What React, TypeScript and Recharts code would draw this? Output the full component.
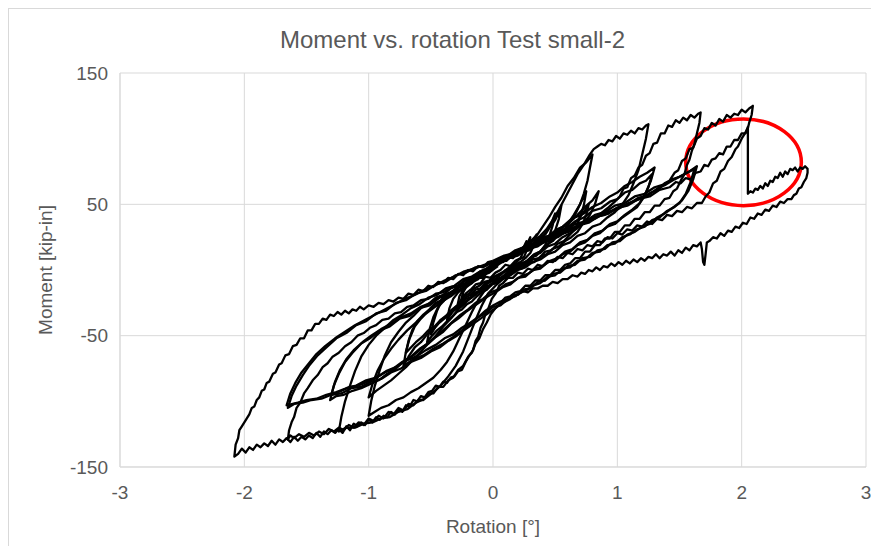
import React from "react";
import {
  LineChart,
  Line,
  XAxis,
  YAxis,
  CartesianGrid,
  ReferenceArea,
  Label,
} from "recharts";

// rotation [deg], moment [kip-in] pairs, one array per cycle
const loopA1 = [0,4, 0.04,7, 0.08,6, 0.12,10, 0.16,9, 0.2,13, 0.24,16, 0.27,22, 0.25,15, 0.22,9, 0.18,7, 0.14,3, 0.1,4, 0.06,0, 0.02,-2, -0.02,-6, -0.06,-5, -0.1,-10, -0.14,-11, -0.18,-15, -0.22,-18, -0.26,-24, -0.24,-17, -0.21,-12, -0.17,-10, -0.13,-6, -0.09,-6, -0.05,-2, -0.01,1, 0.03,3];
const loopA2 = [0.03,3, 0.07,8, 0.11,7, 0.15,11, 0.19,12, 0.23,15, 0.27,19, 0.3,25, 0.28,17, 0.25,10, 0.21,8, 0.17,4, 0.13,2, 0.09,-1, 0.05,-3, 0.01,-5, -0.03,-8, -0.07,-9, -0.11,-12, -0.15,-14, -0.19,-18, -0.23,-20, -0.27,-25, -0.29,-29, -0.27,-20, -0.24,-15, -0.2,-12, -0.16,-9, -0.12,-7, -0.08,-3, -0.04,-2, 0,2];
const loopA3 = [0,3, 0.05,6, 0.1,8, 0.15,10, 0.2,13, 0.25,15, 0.3,20, 0.35,27, 0.33,19, 0.3,13, 0.26,9, 0.22,6, 0.18,4, 0.14,1, 0.1,0, 0.06,-4, 0.02,-5, -0.02,-9, -0.06,-10, -0.1,-14, -0.14,-15, -0.18,-19, -0.22,-21, -0.26,-25, -0.3,-28, -0.34,-34, -0.37,-38, -0.35,-29, -0.32,-22, -0.28,-17, -0.24,-14, -0.2,-10, -0.16,-9, -0.12,-5, -0.08,-4, -0.04,0, 0,3];
const loopB1 = [0,2, 0.05,6, 0.1,7, 0.15,11, 0.2,12, 0.25,16, 0.3,17, 0.35,22, 0.4,25, 0.44,31, 0.47,36, 0.5,43, 0.48,34, 0.45,25, 0.42,19, 0.38,14, 0.34,12, 0.3,7, 0.26,6, 0.22,2, 0.18,1, 0.14,-3, 0.1,-3, 0.06,-7, 0.02,-8, -0.02,-12, -0.06,-12, -0.1,-16, -0.14,-17, -0.18,-21, -0.22,-22, -0.26,-26, -0.3,-28, -0.34,-31, -0.38,-35, -0.42,-38, -0.46,-43, -0.5,-49, -0.48,-40, -0.45,-31, -0.42,-25, -0.38,-22, -0.34,-17, -0.3,-16, -0.26,-12, -0.22,-11, -0.18,-7, -0.14,-6, -0.1,-2, -0.06,-1, -0.02,3, 0.02,4];
const loopB2 = [0.02,4, 0.07,8, 0.12,9, 0.17,13, 0.22,14, 0.27,18, 0.32,20, 0.37,24, 0.42,27, 0.46,33, 0.5,38, 0.53,44, 0.55,49, 0.53,39, 0.5,30, 0.47,23, 0.43,18, 0.39,15, 0.35,11, 0.31,10, 0.27,5, 0.23,4, 0.19,0, 0.15,-1, 0.11,-5, 0.07,-6, 0.03,-10, -0.01,-11, -0.05,-15, -0.09,-17, -0.13,-20, -0.17,-24, -0.21,-26, -0.25,-30, -0.29,-32, -0.33,-36, -0.37,-39, -0.41,-43, -0.45,-46, -0.49,-50, -0.53,-55, -0.51,-45, -0.48,-36, -0.44,-28, -0.4,-24, -0.36,-19, -0.32,-17, -0.28,-13, -0.24,-12, -0.2,-8, -0.16,-7, -0.12,-3, -0.08,-2, -0.04,2, 0,5];
const loopC1 = [0,5, 0.06,8, 0.12,10, 0.18,13, 0.24,15, 0.3,19, 0.36,21, 0.42,25, 0.48,27, 0.54,31, 0.6,35, 0.65,42, 0.7,50, 0.75,60, 0.73,49, 0.7,40, 0.66,31, 0.62,27, 0.57,22, 0.52,20, 0.47,15, 0.42,14, 0.37,9, 0.32,8, 0.27,4, 0.22,3, 0.17,-1, 0.12,-2, 0.07,-6, 0.02,-8, -0.03,-12, -0.08,-14, -0.13,-18, -0.18,-21, -0.23,-25, -0.28,-28, -0.33,-32, -0.38,-36, -0.43,-40, -0.48,-45, -0.53,-49, -0.58,-55, -0.63,-59, -0.68,-66, -0.72,-73, -0.7,-62, -0.67,-52, -0.63,-43, -0.58,-37, -0.53,-32, -0.48,-27, -0.43,-24, -0.38,-19, -0.33,-17, -0.28,-12, -0.23,-11, -0.18,-6, -0.13,-5, -0.08,-1, -0.03,1, 0.02,5];
const loopC2 = [0.02,5, 0.08,9, 0.14,10, 0.2,14, 0.26,15, 0.32,19, 0.38,20, 0.44,24, 0.5,26, 0.56,30, 0.62,33, 0.68,38, 0.73,44, 0.77,50, 0.75,42, 0.72,35, 0.68,29, 0.63,25, 0.58,22, 0.53,18, 0.48,16, 0.43,12, 0.38,10, 0.33,6, 0.28,5, 0.23,1, 0.18,0, 0.13,-4, 0.08,-5, 0.03,-9, -0.02,-11, -0.07,-15, -0.12,-17, -0.17,-21, -0.22,-24, -0.27,-28, -0.32,-31, -0.37,-35, -0.42,-38, -0.47,-43, -0.52,-46, -0.57,-51, -0.62,-55, -0.67,-60, -0.7,-63, -0.68,-54, -0.65,-46, -0.61,-39, -0.56,-34, -0.51,-30, -0.46,-25, -0.41,-23, -0.36,-18, -0.31,-16, -0.26,-11, -0.21,-10, -0.16,-5, -0.11,-4, -0.06,0, 0,3];
const loopD1 = [0,6, 0.06,9, 0.12,11, 0.18,15, 0.24,17, 0.3,22, 0.35,26, 0.4,33, 0.45,40, 0.5,48, 0.55,55, 0.6,64, 0.65,70, 0.7,78, 0.75,82, 0.8,88, 0.78,78, 0.76,68, 0.73,58, 0.7,50, 0.66,42, 0.62,37, 0.58,31, 0.53,27, 0.48,22, 0.43,19, 0.38,14, 0.33,12, 0.28,7, 0.23,5, 0.18,1, 0.13,-1, 0.08,-5, 0.03,-7, -0.02,-12, -0.07,-16, -0.12,-23, -0.17,-32, -0.22,-42, -0.27,-52, -0.32,-62, -0.37,-70, -0.42,-76, -0.48,-82, -0.54,-86, -0.6,-90, -0.66,-93, -0.72,-97, -0.78,-99, -0.84,-103, -0.9,-105, -0.95,-108, -1.0,-111, -0.98,-100, -0.95,-88, -0.91,-76, -0.87,-65, -0.82,-55, -0.76,-47, -0.7,-40, -0.64,-35, -0.58,-29, -0.52,-26, -0.46,-21, -0.4,-19, -0.34,-14, -0.28,-12, -0.22,-7, -0.16,-5, -0.1,-1, -0.04,1, 0.02,5];
const loopD2 = [0.02,5, 0.08,8, 0.14,11, 0.2,13, 0.26,17, 0.32,19, 0.38,23, 0.44,25, 0.5,30, 0.56,33, 0.62,38, 0.68,42, 0.74,48, 0.8,53, 0.85,60, 0.82,50, 0.78,42, 0.73,36, 0.68,32, 0.62,28, 0.56,25, 0.5,20, 0.44,18, 0.38,13, 0.32,11, 0.26,6, 0.2,4, 0.14,0, 0.08,-2, 0.02,-7, -0.04,-10, -0.1,-15, -0.16,-19, -0.22,-25, -0.28,-30, -0.34,-37, -0.4,-43, -0.46,-50, -0.52,-56, -0.58,-62, -0.64,-68, -0.7,-74, -0.76,-79, -0.82,-84, -0.88,-88, -0.94,-92, -1.0,-97, -0.97,-87, -0.93,-77, -0.88,-68, -0.82,-60, -0.76,-53, -0.69,-46, -0.62,-40, -0.55,-34, -0.48,-29, -0.41,-24, -0.34,-20, -0.27,-15, -0.2,-11, -0.13,-6, -0.06,-3, 0.01,2];
const loopE1 = [0.02,5, 0.08,9, 0.14,11, 0.2,15, 0.26,18, 0.32,22, 0.38,26, 0.43,31, 0.48,38, 0.53,46, 0.58,55, 0.63,64, 0.68,73, 0.73,80, 0.78,88, 0.81,92, 0.84,94, 0.87,96, 0.9,95, 0.93,99, 0.96,98, 0.99,102, 1.02,100, 1.05,104, 1.08,103, 1.11,106, 1.14,104, 1.17,108, 1.2,107, 1.23,110, 1.25,111, 1.23,100, 1.2,88, 1.17,76, 1.13,66, 1.09,57, 1.04,50, 0.98,44, 0.92,40, 0.86,35, 0.8,33, 0.74,28, 0.68,26, 0.62,21, 0.56,19, 0.5,14, 0.44,12, 0.38,8, 0.32,6, 0.26,2, 0.2,0, 0.14,-4, 0.08,-7, 0.02,-12, -0.04,-18, -0.09,-27, -0.14,-38, -0.19,-50, -0.24,-62, -0.3,-73, -0.36,-81, -0.42,-88, -0.48,-93, -0.55,-98, -0.62,-101, -0.69,-106, -0.76,-108, -0.83,-112, -0.9,-113, -0.97,-116, -1.04,-117, -1.11,-120, -1.18,-120, -1.24,-123, -1.22,-112, -1.19,-100, -1.15,-88, -1.11,-77, -1.06,-66, -1.0,-57, -0.94,-50, -0.87,-44, -0.8,-38, -0.73,-34, -0.66,-29, -0.59,-26, -0.52,-21, -0.45,-19, -0.38,-14, -0.31,-12, -0.24,-7, -0.17,-5, -0.1,-1, -0.03,2, 0.03,6];
const loopE2 = [0.03,6, 0.1,10, 0.17,12, 0.24,17, 0.31,19, 0.38,24, 0.45,26, 0.52,31, 0.59,34, 0.66,40, 0.73,43, 0.8,48, 0.87,51, 0.94,56, 1.0,59, 1.06,64, 1.12,67, 1.18,71, 1.24,74, 1.3,78, 1.27,68, 1.23,59, 1.18,51, 1.12,46, 1.06,42, 1.0,37, 0.94,35, 0.88,30, 0.82,28, 0.76,23, 0.7,21, 0.64,16, 0.58,14, 0.52,9, 0.46,7, 0.4,3, 0.34,1, 0.28,-3, 0.22,-5, 0.16,-9, 0.1,-11, 0.04,-15, -0.02,-17, -0.08,-22, -0.14,-25, -0.2,-30, -0.26,-34, -0.32,-39, -0.38,-44, -0.44,-49, -0.5,-54, -0.57,-59, -0.64,-65, -0.71,-69, -0.78,-75, -0.85,-79, -0.92,-84, -0.99,-87, -1.06,-90, -1.13,-92, -1.2,-95, -1.26,-96, -1.31,-99, -1.28,-88, -1.24,-79, -1.19,-70, -1.13,-63, -1.06,-56, -0.99,-52, -0.91,-46, -0.83,-43, -0.75,-37, -0.67,-35, -0.59,-29, -0.51,-27, -0.43,-21, -0.35,-19, -0.27,-13, -0.19,-11, -0.11,-5, -0.03,-2, 0.04,4];
const loopE3 = [0.03,4, 0.1,8, 0.17,11, 0.24,15, 0.31,18, 0.38,22, 0.45,25, 0.52,29, 0.59,32, 0.66,37, 0.73,40, 0.8,45, 0.87,47, 0.94,52, 1.0,54, 1.06,59, 1.12,61, 1.18,66, 1.23,68, 1.28,73, 1.25,63, 1.21,55, 1.16,48, 1.1,44, 1.04,40, 0.98,35, 0.92,33, 0.86,28, 0.8,26, 0.74,21, 0.68,19, 0.62,14, 0.56,12, 0.5,7, 0.44,6, 0.38,1, 0.32,0, 0.26,-5, 0.2,-6, 0.14,-11, 0.08,-13, 0.02,-17, -0.04,-20, -0.1,-24, -0.16,-28, -0.22,-32, -0.28,-37, -0.34,-41, -0.4,-47, -0.46,-51, -0.52,-56, -0.59,-60, -0.66,-66, -0.73,-70, -0.8,-75, -0.87,-78, -0.94,-82, -1.01,-85, -1.08,-88, -1.15,-89, -1.22,-92, -1.3,-95, -1.27,-85, -1.23,-76, -1.18,-68, -1.12,-61, -1.05,-55, -0.98,-50, -0.9,-45, -0.82,-41, -0.74,-36, -0.66,-33, -0.58,-28, -0.5,-25, -0.42,-20, -0.34,-17, -0.26,-12, -0.18,-9, -0.1,-4, -0.02,-1, 0.04,3];
const loopF1 = [0.04,4, 0.12,9, 0.2,11, 0.28,16, 0.36,18, 0.44,23, 0.52,25, 0.6,30, 0.68,33, 0.76,38, 0.84,41, 0.92,47, 0.98,52, 1.02,56, 1.05,62, 1.08,63, 1.11,70, 1.14,72, 1.17,78, 1.2,80, 1.23,87, 1.26,89, 1.29,96, 1.32,97, 1.35,104, 1.38,104, 1.41,110, 1.44,109, 1.47,114, 1.5,112, 1.53,116, 1.56,114, 1.59,118, 1.62,116, 1.65,119, 1.67,120, 1.66,112, 1.64,104, 1.62,96, 1.6,91, 1.58,84, 1.56,80, 1.54,73, 1.51,68, 1.48,62, 1.45,60, 1.42,55, 1.38,54, 1.34,49, 1.3,49, 1.26,44, 1.22,44, 1.18,39, 1.14,39, 1.1,34, 1.06,34, 1.02,29, 0.98,29, 0.94,24, 0.9,24, 0.86,19, 0.82,19, 0.78,14, 0.74,14, 0.7,9, 0.66,9, 0.62,5, 0.58,4, 0.54,0, 0.5,0, 0.46,-4, 0.42,-4, 0.38,-8, 0.34,-8, 0.3,-12, 0.26,-12, 0.22,-16, 0.18,-17, 0.14,-20, 0.1,-21, 0.06,-25, 0.02,-29, -0.02,-34, -0.05,-40, -0.08,-45, -0.11,-52, -0.14,-56, -0.17,-63, -0.2,-66, -0.24,-73, -0.28,-76, -0.32,-82, -0.36,-84, -0.4,-89, -0.44,-89, -0.48,-94, -0.52,-94, -0.56,-99, -0.6,-99, -0.64,-103, -0.68,-102, -0.72,-107, -0.76,-105, -0.8,-110, -0.84,-108, -0.88,-113, -0.92,-111, -0.96,-115, -1.0,-113, -1.04,-118, -1.08,-116, -1.12,-120, -1.16,-118, -1.2,-122, -1.24,-120, -1.28,-123, -1.32,-121, -1.36,-125, -1.4,-123, -1.44,-126, -1.48,-124, -1.52,-127, -1.56,-125, -1.6,-128, -1.63,-126, -1.65,-129, -1.64,-122, -1.62,-116, -1.6,-112, -1.58,-105, -1.55,-101, -1.52,-94, -1.49,-90, -1.45,-84, -1.41,-80, -1.37,-74, -1.33,-71, -1.29,-66, -1.24,-63, -1.19,-58, -1.14,-55, -1.09,-50, -1.04,-48, -0.99,-44, -0.94,-42, -0.89,-38, -0.84,-37, -0.79,-33, -0.74,-32, -0.69,-28, -0.64,-27, -0.58,-23, -0.52,-22, -0.46,-18, -0.4,-17, -0.34,-13, -0.28,-12, -0.22,-8, -0.16,-7, -0.1,-3, -0.04,-1, 0.02,3, 0.05,6];
const loopF2 = [0.05,6, 0.13,9, 0.21,13, 0.29,15, 0.37,20, 0.45,22, 0.53,27, 0.61,29, 0.69,34, 0.77,36, 0.85,41, 0.93,43, 1.01,48, 1.09,50, 1.17,55, 1.25,57, 1.32,62, 1.39,65, 1.46,69, 1.52,72, 1.58,75, 1.64,79, 1.61,69, 1.57,60, 1.52,53, 1.46,48, 1.4,45, 1.34,40, 1.28,38, 1.22,33, 1.16,31, 1.1,27, 1.04,25, 0.98,20, 0.92,19, 0.86,14, 0.8,13, 0.74,8, 0.68,7, 0.62,2, 0.56,1, 0.5,-4, 0.44,-5, 0.38,-10, 0.32,-12, 0.26,-16, 0.2,-18, 0.14,-22, 0.08,-25, 0.02,-29, -0.04,-33, -0.1,-37, -0.16,-41, -0.22,-45, -0.29,-50, -0.36,-54, -0.43,-59, -0.5,-62, -0.58,-67, -0.66,-70, -0.74,-75, -0.82,-78, -0.9,-83, -0.98,-85, -1.06,-89, -1.14,-90, -1.22,-94, -1.3,-95, -1.38,-98, -1.46,-99, -1.53,-101, -1.6,-102, -1.65,-105, -1.62,-96, -1.58,-88, -1.53,-80, -1.48,-73, -1.41,-65, -1.34,-59, -1.26,-52, -1.18,-48, -1.1,-42, -1.02,-39, -0.94,-33, -0.86,-31, -0.78,-25, -0.7,-23, -0.62,-18, -0.54,-16, -0.46,-11, -0.38,-9, -0.3,-4, -0.22,-2, -0.14,2, -0.06,3, 0.02,7];
const loopF3 = [0.02,7, 0.1,9, 0.18,14, 0.26,16, 0.34,21, 0.42,23, 0.5,28, 0.58,30, 0.66,35, 0.74,37, 0.82,42, 0.9,44, 0.98,49, 1.06,51, 1.14,56, 1.22,58, 1.3,63, 1.37,65, 1.44,69, 1.5,71, 1.56,74, 1.62,77, 1.59,67, 1.55,58, 1.5,51, 1.44,47, 1.38,43, 1.32,40, 1.26,35, 1.2,33, 1.14,29, 1.08,27, 1.02,22, 0.96,21, 0.9,16, 0.84,15, 0.78,10, 0.72,9, 0.66,4, 0.6,3, 0.54,-2, 0.48,-3, 0.42,-8, 0.36,-9, 0.3,-14, 0.24,-15, 0.18,-20, 0.12,-22, 0.06,-27, 0,-28, -0.06,-33, -0.12,-36, -0.18,-40, -0.25,-44, -0.32,-49, -0.39,-52, -0.46,-57, -0.54,-61, -0.62,-66, -0.7,-69, -0.78,-74, -0.86,-77, -0.94,-82, -1.02,-84, -1.1,-88, -1.18,-90, -1.26,-93, -1.34,-95, -1.42,-98, -1.5,-99, -1.57,-101, -1.66,-103, -1.63,-94, -1.59,-86, -1.54,-78, -1.48,-71, -1.42,-64, -1.35,-58, -1.27,-52, -1.19,-47, -1.11,-42, -1.03,-38, -0.95,-34, -0.87,-30, -0.79,-26, -0.71,-22, -0.63,-19, -0.55,-15, -0.47,-12, -0.39,-8, -0.31,-5, -0.23,-1, -0.15,1, -0.07,4, 0.01,6];
const loopG1 = [0.01,6, 0.1,9, 0.19,14, 0.28,16, 0.37,21, 0.46,24, 0.55,29, 0.64,31, 0.73,36, 0.82,39, 0.91,44, 1.0,46, 1.09,51, 1.18,54, 1.27,59, 1.33,61, 1.38,66, 1.42,68, 1.46,74, 1.49,76, 1.52,83, 1.55,85, 1.58,92, 1.61,93, 1.64,100, 1.67,102, 1.7,108, 1.73,107, 1.76,112, 1.79,110, 1.82,115, 1.85,113, 1.88,118, 1.91,116, 1.94,119, 1.97,118, 2.0,122, 2.03,120, 2.06,123, 2.09,125, 2.08,118, 2.06,112, 2.05,108, 2.02,103, 2.0,100, 1.97,94, 1.95,92, 1.92,86, 1.89,83, 1.86,77, 1.83,75, 1.8,68, 1.77,66, 1.74,59, 1.71,56, 1.68,51, 1.64,51, 1.6,47, 1.56,48, 1.52,44, 1.48,45, 1.44,41, 1.4,42, 1.36,38, 1.32,39, 1.28,35, 1.24,37, 1.2,33, 1.16,34, 1.12,30, 1.08,31, 1.04,27, 1.0,28, 0.96,24, 0.92,25, 0.88,21, 0.84,22, 0.8,18, 0.76,19, 0.72,15, 0.68,16, 0.64,12, 0.6,13, 0.56,9, 0.52,10, 0.48,6, 0.44,7, 0.4,3, 0.36,4, 0.32,0, 0.28,1, 0.24,-3, 0.2,-2, 0.16,-6, 0.12,-6, 0.08,-10, 0.05,-12, 0.02,-18, -0.01,-22, -0.04,-30, -0.06,-33, -0.08,-40, -0.1,-44, -0.12,-51, -0.14,-54, -0.16,-61, -0.19,-65, -0.22,-70, -0.25,-76, -0.28,-77, -0.31,-81, -0.34,-82, -0.37,-86, -0.4,-85, -0.43,-89, -0.46,-88, -0.49,-92, -0.52,-93, -0.55,-97, -0.58,-96, -0.61,-100, -0.64,-99, -0.67,-104, -0.7,-103, -0.73,-108, -0.76,-106, -0.79,-110, -0.82,-108, -0.85,-112, -0.88,-111, -0.91,-114, -0.94,-112, -0.97,-116, -1.0,-114, -1.03,-118, -1.06,-116, -1.09,-119, -1.12,-117, -1.15,-122, -1.18,-119, -1.21,-124, -1.24,-121, -1.27,-124, -1.3,-122, -1.33,-125, -1.36,-123, -1.39,-127, -1.42,-124, -1.45,-128, -1.48,-126, -1.51,-129, -1.54,-127, -1.57,-130, -1.6,-127, -1.63,-131, -1.66,-128, -1.69,-131, -1.72,-129, -1.75,-133, -1.78,-130, -1.81,-134, -1.84,-132, -1.87,-135, -1.9,-133, -1.93,-137, -1.96,-135, -1.99,-139, -2.02,-136, -2.05,-140, -2.08,-142, -2.07,-133, -2.05,-128, -2.04,-122, -2.02,-119, -2.0,-116, -1.98,-113, -1.96,-110, -1.94,-105, -1.92,-104, -1.9,-99, -1.88,-97, -1.86,-92, -1.84,-91, -1.82,-86, -1.8,-85, -1.77,-79, -1.75,-78, -1.72,-72, -1.7,-71, -1.67,-65, -1.64,-64, -1.61,-58, -1.58,-57, -1.55,-52, -1.52,-52, -1.49,-46, -1.46,-46, -1.43,-41, -1.4,-41, -1.37,-37, -1.34,-38, -1.31,-34, -1.28,-35, -1.25,-32, -1.22,-34, -1.19,-31, -1.16,-33, -1.13,-30, -1.1,-31, -1.07,-28, -1.04,-30, -1.0,-27, -0.96,-28, -0.92,-25, -0.88,-26, -0.84,-23, -0.8,-24, -0.76,-21, -0.72,-22, -0.68,-18, -0.64,-19, -0.6,-15, -0.56,-16, -0.52,-12, -0.48,-13, -0.44,-9, -0.4,-10, -0.36,-6, -0.32,-7, -0.28,-3, -0.24,-4, -0.2,0, -0.16,-1, -0.12,3, -0.08,2, -0.04,6, 0,7];
// last cycle: reload, sudden drop near 2.05 deg, push to 2.5 deg, unload
const loopH = [0,7, 0.09,11, 0.18,13, 0.27,18, 0.36,20, 0.45,25, 0.54,28, 0.63,32, 0.72,35, 0.81,40, 0.9,42, 0.99,47, 1.08,49, 1.17,54, 1.26,56, 1.34,61, 1.42,63, 1.47,67, 1.51,66, 1.55,70, 1.59,69, 1.63,74, 1.67,75, 1.7,80, 1.73,79, 1.76,84, 1.79,85, 1.82,89, 1.85,88, 1.88,94, 1.91,94, 1.94,99, 1.97,99, 2.0,104, 2.03,104, 2.05,109, 2.05,58, 2.07,60, 2.09,59, 2.11,62, 2.13,61, 2.15,64, 2.17,62, 2.19,66, 2.21,64, 2.23,68, 2.25,67, 2.27,71, 2.29,70, 2.31,74, 2.33,71, 2.35,75, 2.37,73, 2.39,77, 2.41,76, 2.43,78, 2.45,75, 2.47,78, 2.49,77, 2.51,79, 2.53,77, 2.53,74, 2.52,70, 2.5,67, 2.48,63, 2.46,62, 2.44,58, 2.42,57, 2.4,54, 2.37,54, 2.34,51, 2.31,52, 2.28,48, 2.25,49, 2.22,45, 2.19,46, 2.16,42, 2.13,43, 2.1,39, 2.07,40, 2.04,35, 2.01,36, 1.98,32, 1.95,33, 1.92,29, 1.89,30, 1.86,26, 1.83,28, 1.8,24, 1.77,25, 1.74,22, 1.72,21, 1.71,12, 1.7,4, 1.69,6, 1.68,16, 1.67,21, 1.64,18, 1.61,19, 1.58,15, 1.55,17, 1.52,13, 1.49,15, 1.46,11, 1.43,14, 1.4,11, 1.37,12, 1.34,9, 1.31,12, 1.28,9, 1.25,10, 1.22,7, 1.19,9, 1.16,6, 1.13,8, 1.1,5, 1.07,7, 1.04,4, 1.01,6, 0.98,3, 0.95,5, 0.92,2, 0.89,3, 0.86,0, 0.83,2, 0.8,-1, 0.77,0, 0.74,-3, 0.71,-2, 0.68,-5, 0.64,-4, 0.6,-7, 0.56,-7, 0.52,-10, 0.48,-9, 0.44,-12, 0.4,-12, 0.36,-14, 0.32,-14, 0.28,-17, 0.24,-16, 0.2,-19, 0.16,-19, 0.12,-22, 0.06,-24, 0,-27, -0.06,-31, -0.12,-36, -0.18,-41, -0.25,-46, -0.32,-51, -0.4,-56, -0.48,-60, -0.56,-65, -0.64,-68, -0.72,-73];

const loops = [loopA1, loopA2, loopA3, loopB1, loopB2, loopC1, loopC2, loopD1, loopD2, loopE1, loopE2, loopE3, loopF1, loopF2, loopF3, loopG1, loopH];

const xTicks = [-3, -2, -1, 0, 1, 2, 3];
const yTicks = [-150, -50, 50, 150];

// region circled in red (rotation / moment bounds)
const circled = { x1: 1.55, x2: 2.48, y1: 49, y2: 115 };

const toPts = (a: number[]) => {
  const out: { r: number; m: number }[] = [];
  for (let i = 0; i < a.length; i += 2) out.push({ r: a[i], m: a[i + 1] });
  return out;
};

const font = '"Liberation Sans", Arial, sans-serif';
const grey = "#595959";

const Ellipse = (props: any) => {
  const { x, y, width, height } = props;
  return (
    <ellipse
      cx={x + width / 2}
      cy={y + height / 2}
      rx={width / 2}
      ry={height / 2}
      fill="none"
      stroke="#ff0000"
      strokeWidth={3.5}
    />
  );
};

export default function App() {
  return (
    <div
      style={{
        width: 871,
        height: 538,
        borderLeft: "1px solid #d9d9d9",
        borderTop: "1px solid #d9d9d9",
        boxSizing: "border-box",
        overflow: "hidden",
        background: "#fff",
        position: "relative",
        fontFamily: font,
      }}
    >
      <div
        style={{
          position: "absolute",
          top: 17,
          left: 0,
          width: 887,
          textAlign: "center",
          fontSize: 24,
          color: grey,
        }}
      >
        Moment vs. rotation Test small-2
      </div>
      <LineChart
        width={870}
        height={537}
        margin={{ top: 64, right: 13, bottom: 0, left: 0 }}
      >
        <CartesianGrid stroke="#d9d9d9" strokeWidth={1} />
        <XAxis
          type="number"
          dataKey="r"
          domain={[-3, 3]}
          ticks={xTicks}
          height={79}
          tickLine={false}
          tickSize={0}
          tickMargin={19}
          axisLine={{ stroke: "#d9d9d9" }}
          tick={{ fill: grey, fontSize: 19, fontFamily: font }}
          allowDuplicatedCategory={false}
        >
          <Label
            value="Rotation [°]"
            position="insideBottom"
            offset={13}
            style={{ fill: grey, fontSize: 19, fontFamily: font }}
          />
        </XAxis>
        <YAxis
          type="number"
          dataKey="m"
          domain={[-150, 150]}
          ticks={yTicks}
          width={111}
          tickLine={false}
          tickSize={0}
          tickMargin={12}
          axisLine={{ stroke: "#d9d9d9" }}
          tick={{ fill: grey, fontSize: 19, fontFamily: font }}
        >
          <Label
            value="Moment [kip-in]"
            angle={-90}
            position="insideLeft"
            offset={36}
            style={{ fill: grey, fontSize: 19, fontFamily: font, textAnchor: "middle" }}
          />
        </YAxis>
        {loops.map((l, i) => (
          <Line
            key={i}
            data={toPts(l)}
            dataKey="m"
            type="linear"
            stroke="#000"
            strokeWidth={2.3}
            strokeLinejoin="round"
            dot={false}
            activeDot={false}
            isAnimationActive={false}
          />
        ))}
        <ReferenceArea
          x1={circled.x1}
          x2={circled.x2}
          y1={circled.y1}
          y2={circled.y2}
          ifOverflow="visible"
          shape={Ellipse}
        />
      </LineChart>
    </div>
  );
}
